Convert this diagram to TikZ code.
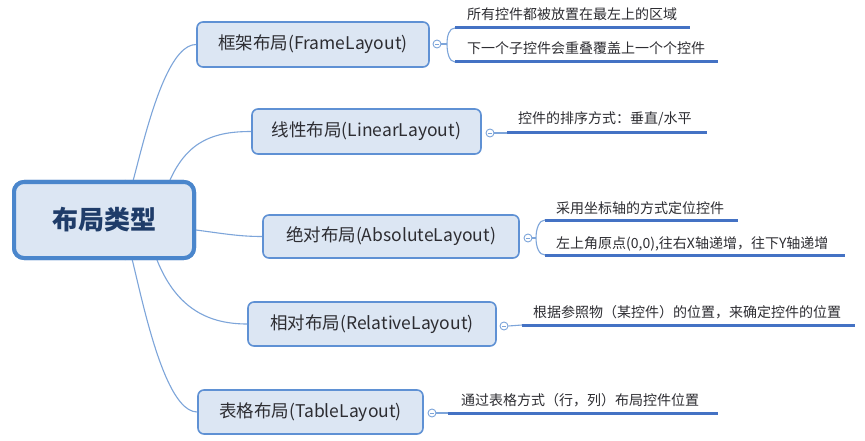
\documentclass[tikz,border=0pt]{standalone}
\usepackage{fontspec}
\setmainfont{Noto Sans CJK SC}
\definecolor{boxfill}{RGB}{220,230,243}
\definecolor{boxline}{RGB}{95,145,212}
\definecolor{rootline}{RGB}{74,134,204}
\definecolor{ulcol}{RGB}{68,114,196}
\definecolor{conncol}{RGB}{125,165,218}
\definecolor{txt}{RGB}{45,45,50}
\definecolor{roottxt}{RGB}{31,60,105}
\begin{document}
\begin{tikzpicture}[x=1pt,y=-1pt,
 branch/.style={draw=boxline,line width=1.6pt,fill=boxfill,rounded corners=6pt,inner sep=0pt,text=txt,font=\fontsize{17.5}{20}\selectfont},
 rootbox/.style={draw=rootline,line width=4pt,fill=boxfill,rounded corners=10pt,inner sep=0pt,text=roottxt,font=\fontsize{26}{30}\selectfont\bfseries},
 knob/.style={circle,draw=conncol,fill=white,line width=0.9pt,minimum size=8pt,inner sep=0pt},
 leaf/.style={anchor=base west,text=txt,font=\fontsize{14}{16}\selectfont,inner sep=0pt},
 ul/.style={draw=ulcol,line width=3pt},
 conn/.style={draw=conncol,line width=1.1pt}]
\useasboundingbox (0,0) rectangle (865,441);
\fill[white] (0,0) rectangle (865,441);

\node[rootbox,minimum width=180pt,minimum height=76pt] (root) at (104,220) {布局类型};
\node[branch,minimum width=232pt,minimum height=45pt] (frame) at (313,44.5) {框架布局(FrameLayout)};
\node[branch,minimum width=229pt,minimum height=45pt] (linear) at (366.5,131.5) {线性布局(LinearLayout)};
\node[branch,minimum width=256pt,minimum height=43pt] (abs) at (391,236.5) {绝对布局(AbsoluteLayout)};
\node[branch,minimum width=248pt,minimum height=44pt] (rel) at (372,324) {相对布局(RelativeLayout)};
\node[branch,minimum width=225pt,minimum height=44pt] (table) at (310.5,412) {表格布局(TableLayout)};

% root connectors
\draw[conn] ([xshift=21pt]root.north) .. controls ++(0,80) and (150,44) .. (frame.west);
\draw[conn] ([xshift=66pt]root.north) .. controls ++(18,-40) and (215,131.5) .. (linear.west);
\draw[conn] ([yshift=-10pt]root.east) .. controls ++(30,4) and (240,236.5) .. (abs.west);
\draw[conn] ([xshift=53pt]root.south) .. controls ++(20,50) and (210,324) .. (rel.west);
\draw[conn] ([xshift=21pt]root.south) .. controls ++(0,-80) and (150,412) .. (table.west);

% redraw root on top of connectors
\node[rootbox,minimum width=180pt,minimum height=76pt] at (root) {布局类型};

% knobs
\node[knob] (kf) at (437,44) {};
\node[knob] (kl) at (490,133) {};
\node[knob] (ka) at (528,238) {};
\node[knob] (kr) at (504,326) {};
\node[knob] (kt) at (432,413) {};
\foreach \k in {kf,kl,ka,kr,kt}{
  \draw[draw=conncol,line width=0.8pt] ([xshift=-2pt]\k.center) -- ([xshift=2pt]\k.center);
}

% Frame leaves
\coordinate (f1s) at (455,28); \coordinate (f1e) at (690,28);
\coordinate (f2s) at (455,62); \coordinate (f2e) at (718,62);
\node[leaf] (f1) at (467,20) {所有控件都被放置在最左上的区域};
\node[leaf] (f2) at (467,54) {下一个子控件会重叠覆盖上一个个控件};
\draw[conn] (kf.east) -- (447,44);
\draw[conn] (f1s) .. controls (449,28) and (447,36) .. (447,44) .. controls (447,52) and (449,62) .. (f2s);
\draw[ul] (f1s) -- (f1e);
\draw[ul] (f2s) -- (f2e);

% Linear leaf
\coordinate (l1s) at (507,133); \coordinate (l1e) at (707,133);
\node[leaf] (l1) at (518,124) {控件的排序方式：垂直/水平};
\draw[conn] (kl.east) -- (l1s);
\draw[ul] (l1s) -- (l1e);

% Absolute leaves
\coordinate (a1s) at (545,220); \coordinate (a1e) at (738,220);
\coordinate (a2s) at (545,255); \coordinate (a2e) at (845,255);
\node[leaf] (a1) at (556,213) {采用坐标轴的方式定位控件};
\node[leaf] (a2) at (556,248) {左上角原点(0,0),往右X轴递增，往下Y轴递增};
\draw[conn] (ka.east) -- (536,238);
\draw[conn] (a1s) .. controls (539,220) and (536,229) .. (536,238) .. controls (536,247) and (539,255) .. (a2s);
\draw[ul] (a1s) -- (a1e);
\draw[ul] (a2s) -- (a2e);

% Relative leaf
\coordinate (r1s) at (522,325); \coordinate (r1e) at (855,325);
\node[leaf] (r1) at (533,317) {根据参照物（某控件）的位置，来确定控件的位置};
\draw[conn] (kr.east) -- (r1s);
\draw[ul] (r1s) -- (r1e);

% Table leaf
\coordinate (t1s) at (448,413); \coordinate (t1e) at (718,413);
\node[leaf] (t1) at (461,405) {通过表格方式（行，列）布局控件位置};
\draw[conn] (kt.east) -- (t1s);
\draw[ul] (t1s) -- (t1e);
\end{tikzpicture}
\end{document}
